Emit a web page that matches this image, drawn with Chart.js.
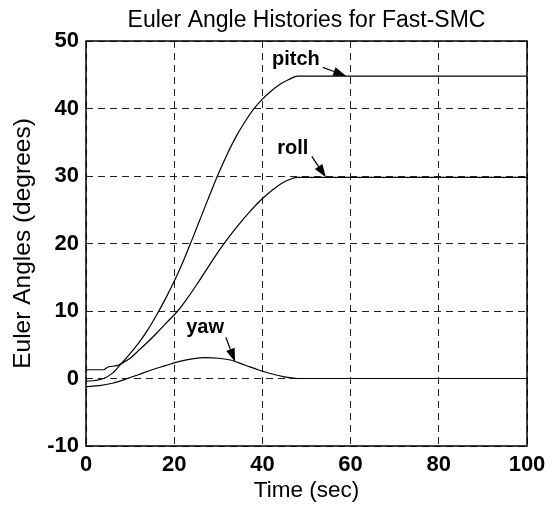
<!DOCTYPE html>
<html>
<head>
<meta charset="utf-8">
<script src="https://cdn.jsdelivr.net/npm/chart.js@4"></script>
<style>
  html, body { margin: 0; padding: 0; background: #fff; }
  #wrap { width: 557px; height: 507px; }
</style>
</head>
<body>
<div id="wrap"><canvas id="myChart" width="557" height="507"></canvas></div>
<script>
// time samples (sec) and angles (deg)
const pitchT = [0, 2, 4, 6, 8, 10, 12, 14, 16, 18, 20, 22, 24, 26, 28, 30, 32, 34, 36, 38, 40, 42, 44, 46, 48, 100];
const pitchV = [-0.4, -0.3, 0, 0.8, 2.2, 3.7, 5.3, 7.2, 9.4, 11.8, 14.4, 17.3, 20.5, 23.8, 27.1, 30.3, 33.2, 35.8, 38.0, 39.9, 41.4, 42.6, 43.6, 44.3, 44.8, 44.8];

const rollT = [0, 4, 5, 7, 8, 10, 12, 14, 16, 18, 20.8, 23, 25.2, 27.4, 29.7, 32, 34.4, 37, 39.6, 42.2, 44.6, 46.6, 48, 100];
const rollV = [1.3, 1.3, 1.7, 1.9, 2.2, 3.0, 4.2, 5.4, 6.7, 8.1, 10, 11.9, 14, 16.2, 18.5, 20.6, 22.6, 24.6, 26.4, 27.9, 29, 29.6, 29.8, 29.8];

const yawT = [0, 3, 6, 9, 12, 15, 18, 21, 24, 27, 30, 33, 36, 39, 42, 45, 48, 100];
const yawV = [-1.2, -1.05, -0.7, -0.1, 0.6, 1.3, 1.9, 2.5, 2.9, 3.1, 3.0, 2.7, 2.0, 1.3, 0.7, 0.25, 0, 0];

const xTicks = [0, 20, 40, 60, 80, 100];
const yTicks = [-10, 0, 10, 20, 30, 40, 50];

// labels with arrows: text spot, arrow tail, arrow head (data units)
const annoText = ['pitch', 'roll', 'yaw'];
const annoTextAt = [[47.6, 46.5], [46.9, 33.2], [27, 6.7]];
const annoTail = [[53.7, 46.1], [51.2, 32.9], [31.7, 6.1]];
const annoHead = [[59, 44.8], [54.4, 29.8], [33.8, 2.5]];

const FONT = "'Liberation Sans', Arial, sans-serif";

function toPts(t, v) {
  return t.map((x, i) => ({ x: x, y: v[i] }));
}

const lineStyle = {
  borderColor: '#000',
  borderWidth: 1.2,
  pointRadius: 0,
  fill: false,
  cubicInterpolationMode: 'monotone'
};

const data = {
  datasets: [
    Object.assign({ label: 'pitch', data: toPts(pitchT, pitchV) }, lineStyle),
    Object.assign({ label: 'roll', data: toPts(rollT, rollV) }, lineStyle),
    Object.assign({ label: 'yaw', data: toPts(yawT, yawV) }, lineStyle)
  ]
};

// frame round the plot + the arrow labels
const extras = {
  id: 'extras',
  afterDraw(chart) {
    const ctx = chart.ctx;
    const a = chart.chartArea;
    const xs = chart.scales.x, ys = chart.scales.y;
    ctx.save();
    ctx.setLineDash([]);
    ctx.strokeStyle = '#000';
    ctx.lineWidth = 1.5;
    ctx.strokeRect(a.left, a.top, a.right - a.left, a.bottom - a.top);

    ctx.fillStyle = '#000';
    ctx.font = 'bold 20px ' + FONT;
    ctx.textAlign = 'center';
    ctx.textBaseline = 'alphabetic';
    annoText.forEach((txt, i) => {
      ctx.fillText(txt, xs.getPixelForValue(annoTextAt[i][0]), ys.getPixelForValue(annoTextAt[i][1]));
      const x1 = xs.getPixelForValue(annoTail[i][0]), y1 = ys.getPixelForValue(annoTail[i][1]);
      const x2 = xs.getPixelForValue(annoHead[i][0]), y2 = ys.getPixelForValue(annoHead[i][1]);
      const ang = Math.atan2(y2 - y1, x2 - x1);
      const len = 13, half = 4.5;
      const bx = x2 - len * Math.cos(ang), by = y2 - len * Math.sin(ang);
      ctx.lineWidth = 1.2;
      ctx.beginPath();
      ctx.moveTo(x1, y1);
      ctx.lineTo(bx, by);
      ctx.stroke();
      ctx.beginPath();
      ctx.moveTo(x2, y2);
      ctx.lineTo(bx - half * Math.sin(ang), by + half * Math.cos(ang));
      ctx.lineTo(bx + half * Math.sin(ang), by - half * Math.cos(ang));
      ctx.closePath();
      ctx.fill();
    });
    ctx.restore();
  }
};

const config = {
  type: 'line',
  data,
  options: {
    responsive: false,
    animation: false,
    layout: { padding: { left: 0, right: 30, top: 0, bottom: 0 } },
    plugins: {
      legend: { display: false },
      tooltip: { enabled: false },
      title: {
        display: true,
        fullSize: false,
        text: 'Euler Angle Histories for Fast-SMC',
        color: '#000',
        font: { family: FONT, size: 23, weight: 'normal' },
        padding: { top: 7, bottom: 6.4 }
      }
    },
    scales: {
      x: {
        type: 'linear',
        min: 0,
        max: 100,
        afterBuildTicks: s => { s.ticks = xTicks.map(v => ({ value: v })); },
        afterFit: s => { s.height = 61; },
        ticks: { color: '#000', font: { family: FONT, size: 22, weight: 'bold' }, padding: 6, maxRotation: 0 },
        grid: { color: '#222', lineWidth: 1, drawTicks: false },
        border: { display: false, dash: [7, 5] },
        title: {
          display: true,
          text: 'Time (sec)',
          color: '#000',
          font: { family: FONT, size: 22.5, weight: 'normal' },
          padding: { top: 3, bottom: 3 }
        }
      },
      y: {
        min: -10,
        max: 50,
        afterBuildTicks: s => { s.ticks = yTicks.map(v => ({ value: v })); },
        afterFit: s => { s.width = 86; },
        ticks: { color: '#000', font: { family: FONT, size: 22, weight: 'bold' }, padding: 7 },
        grid: { color: '#222', lineWidth: 1, drawTicks: false },
        border: { display: false, dash: [7, 5] },
        title: {
          display: true,
          text: 'Euler Angles (degrees)',
          color: '#000',
          font: { family: FONT, size: 24.5, weight: 'normal' },
          padding: { top: 8.3, bottom: 3 }
        }
      }
    }
  },
  plugins: [extras]
};

const myChart = new Chart(document.getElementById('myChart'), config);
</script>
</body>
</html>
